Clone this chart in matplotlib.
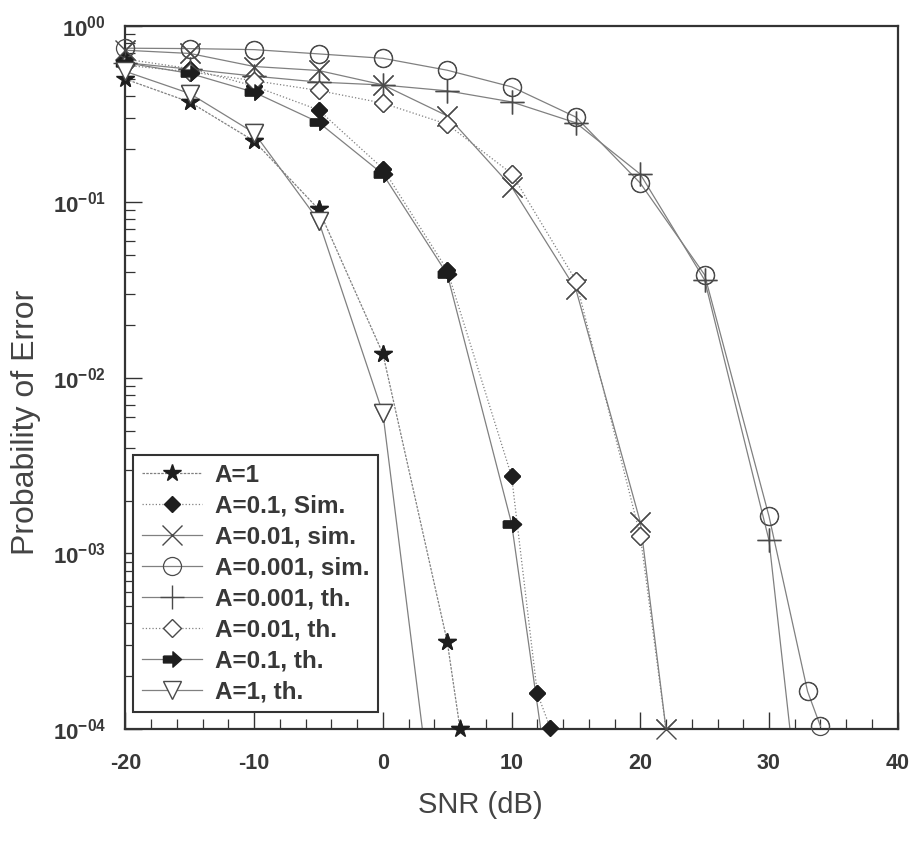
import numpy as np
import matplotlib
matplotlib.use('Agg')
import matplotlib.pyplot as plt
from matplotlib.ticker import MultipleLocator, LogLocator, NullFormatter

plt.rcParams['font.family'] = ['Liberation Sans', 'DejaVu Sans']
plt.rcParams['font.weight'] = 'bold'
plt.rcParams['axes.unicode_minus'] = False
plt.rcParams['mathtext.fontset'] = 'custom'
plt.rcParams['mathtext.rm'] = 'Liberation Sans:bold'
plt.rcParams['mathtext.it'] = 'Liberation Sans:bold'
plt.rcParams['mathtext.bf'] = 'Liberation Sans:bold'

# SNR (dB) and probability of error
snr_a1_sim = [-20, -15, -10, -5, 0, 5, 6]
pe_a1_sim = [0.50, 0.37, 0.222, 0.091, 0.0137, 3.15e-4, 1.0e-4]

snr_a01_sim = [-20, -15, -10, -5, 0, 5, 10, 12, 13]
pe_a01_sim = [0.65, 0.574, 0.456, 0.334, 0.155, 0.041, 2.75e-3, 1.6e-4, 1.02e-4]

snr_a001_sim = [-20, -15, -10, -5, 0, 5, 10, 15, 20, 22]
pe_a001_sim = [0.73, 0.70, 0.59, 0.56, 0.464, 0.309, 0.122, 0.0318, 1.51e-3, 1.0e-4]

snr_a0001_sim = [-20, -15, -10, -5, 0, 5, 10, 15, 20, 25, 30, 33, 34]
pe_a0001_sim = [0.75, 0.746, 0.736, 0.696, 0.657, 0.562, 0.452, 0.304, 0.128,
                0.0385, 1.63e-3, 1.64e-4, 1.04e-4]

snr_th = [-20, -15, -10, -5, 0, 5, 10, 15, 20, 25, 30, 35]
pe_a0001_th = [0.62, 0.57, 0.52, 0.481, 0.463, 0.429, 0.371, 0.282, 0.144,
               0.036, 1.19e-3, 6e-7]
pe_a001_th = [0.60, 0.55, 0.49, 0.431, 0.365, 0.277, 0.145, 0.0357, 1.26e-3, 2.2e-6]
pe_a01_th = [0.62, 0.539, 0.421, 0.284, 0.144, 0.0388, 1.48e-3, 3.9e-6]
pe_a1_th = [0.553, 0.414, 0.247, 0.0783, 6.28e-3, 7.4e-6]

ytick_vals = [1e-4, 1e-3, 1e-2, 1e-1, 1]
ytick_labels = [r'$10^{-04}$', r'$10^{-03}$', r'$10^{-02}$', r'$10^{-01}$', r'$10^{00}$']

arrow = [(-1, 0.38), (0.05, 0.38), (0.05, 0.85), (1, 0), (0.05, -0.85),
         (0.05, -0.38), (-1, -0.38), (-1, 0.38)]

line_c = '#808080'
dark = '#1e1e1e'
edge = '#4a4a4a'
txt = '#383838'

series = [
    (snr_a1_sim, pe_a1_sim, 'A=1',
     dict(ls=(0, (2, 1)), marker='*', ms=13, mfc=dark, mec=dark)),
    (snr_a01_sim, pe_a01_sim, 'A=0.1, Sim.',
     dict(ls=':', marker='D', ms=8, mfc=dark, mec=dark)),
    (snr_a001_sim, pe_a001_sim, 'A=0.01, sim.',
     dict(ls='-', marker='x', ms=15, mfc='none', mec=edge, mew=1.0)),
    (snr_a0001_sim, pe_a0001_sim, 'A=0.001, sim.',
     dict(ls='-', marker='o', ms=13, mfc='none', mec=edge, mew=0.9)),
    (snr_th[:len(pe_a0001_th)], pe_a0001_th, 'A=0.001, th.',
     dict(ls='-', marker='+', ms=17, mfc='none', mec=edge, mew=1.0)),
    (snr_th[:len(pe_a001_th)], pe_a001_th, 'A=0.01, th.',
     dict(ls=':', marker='D', ms=9, mfc='white', mec=edge, mew=1.0)),
    (snr_th[:len(pe_a01_th)], pe_a01_th, 'A=0.1, th.',
     dict(ls='-', marker=arrow, ms=13, mfc=dark, mec=dark)),
    (snr_th[:len(pe_a1_th)], pe_a1_th, 'A=1, th.',
     dict(ls='-', marker='v', ms=13, mfc='white', mec=edge, mew=1.0)),
]

fig = plt.figure(figsize=(9.16, 8.46), dpi=100)
ax = fig.add_axes([0.137, 0.138, 0.843, 0.831])

for x, y, lab, st in series:
    ax.plot(x, y, color=line_c, lw=0.9, label=lab, **st)
    x = np.array(x)
    y = np.array(y)
    keep = y >= 1e-4
    st2 = dict(st)
    st2['ls'] = 'none'
    ax.plot(x[keep], y[keep], clip_on=False, zorder=3, **st2)

ax.set_yscale('log')
ax.set_xlim(-20, 40)
ax.set_ylim(1e-4, 1)
ax.set_xticks([-20, -10, 0, 10, 20, 30, 40])
ax.xaxis.set_minor_locator(MultipleLocator(2))
ax.set_yticks(ytick_vals, ytick_labels)
ax.yaxis.set_minor_locator(LogLocator(base=10, subs=np.arange(2, 10)))
ax.yaxis.set_minor_formatter(NullFormatter())

ax.tick_params(which='both', direction='in', top=False, right=False,
               colors='#333333', labelcolor=txt)
ax.tick_params(which='major', length=12, width=1.0)
ax.tick_params(which='minor', length=7, width=0.9)
ax.tick_params(axis='x', which='major', pad=17, labelsize=15.5)
ax.tick_params(axis='y', which='major', pad=14, labelsize=16)
for s in ax.spines.values():
    s.set_color('#333333')
    s.set_linewidth(1.6)

ax.set_xlabel('SNR (dB)', fontsize=21, fontweight='normal', color='#444444')
ax.xaxis.set_label_coords(0.46, -0.088)
ax.set_ylabel('Probability of Error', fontsize=23, fontweight='normal', color='#444444')
ax.yaxis.set_label_coords(-0.11, 0.437)

leg = ax.legend(loc='lower left', bbox_to_anchor=(0.01, 0.024), borderaxespad=0,
                fontsize=17.5, handlelength=2.5, labelspacing=0.33, handletextpad=0.5,
                borderpad=0.35, fancybox=False, framealpha=1, edgecolor='#333333')
leg.get_frame().set_linewidth(1.5)
for t in leg.get_texts():
    t.set_color(txt)

fig.savefig('out.png', dpi=100)
